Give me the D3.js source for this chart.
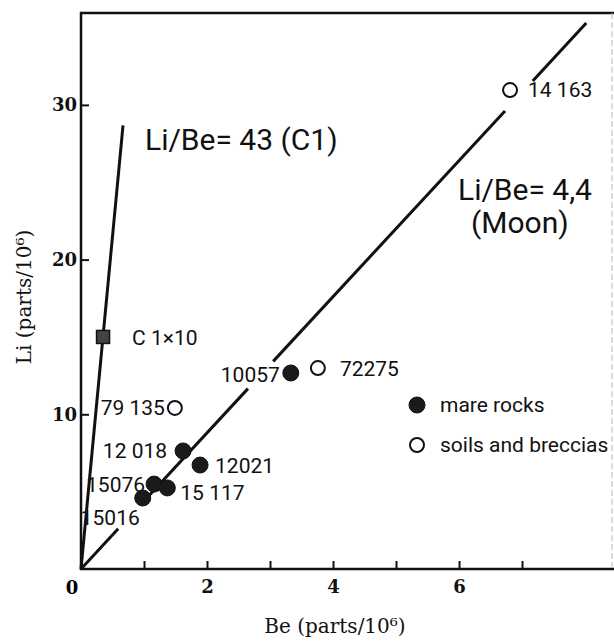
<!DOCTYPE html>
<html>
<head>
<meta charset="utf-8">
<script src="https://cdn.jsdelivr.net/npm/d3@7"></script>
<style>
  body { margin: 0; background: #fff; }
  svg { display: block; }
  .lbl { font-family: Roboto, sans-serif; font-size: 21px; fill: #111; }
  .big { font-family: Roboto, sans-serif; font-size: 30px; fill: #111; }
  .axis text { font-family: "DejaVu Serif", serif; font-size: 18px; font-weight: bold; fill: #111; }
  .axis line { stroke: #111; stroke-width: 2; }
  .ttl { font-family: "DejaVu Serif", serif; font-size: 20px; fill: #111; }
</style>
</head>
<body>
<div id="chart"></div>
<script>
// Lunar samples (Be, Li in parts/10^6)
var sampleLabels = ["14 163", "72275", "10057", "79 135", "12 018", "12021", "15076", "15 117", "15016"];
var beValues     = [6.81, 3.76, 3.33, 1.49, 1.62, 1.89, 1.16, 1.37, 0.98];
var liValues     = [30.96, 12.99, 12.67, 10.41, 7.63, 6.72, 5.49, 5.24, 4.59];
var sampleTypes  = ["soil", "soil", "mare", "soil", "mare", "mare", "mare", "mare", "mare"];

// carbonaceous chondrite point (x10)
var c1Label = "C 1×10";
var c1Be = 0.35, c1Li = 15.0;

// reference ratio lines
var ratioValues = [43, 4.4];
var c1LineSegments   = [[0, 0.667]];
var moonLineSegments = [[0, 0.59], [1.0, 2.65], [3.05, 6.73], [7.17, 8.02]];

var xTicks = [1, 2, 3, 4, 5, 6, 7];
var xTickLabels = {2: "2", 4: "4", 6: "6"};
var yTicks = [10, 20, 30];

var legendLabels = ["mare rocks", "soils and breccias"];

// label placement around each point: [dx, dy, anchor]
var labelOffsets = [
  [18, 7, "start"], [22, 8, "start"], [-11, 9, "end"], [-10, 7, "end"],
  [-16, 7, "end"], [15, 8, "start"], [-9, 8, "end"], [13, 12, "start"], [-3, 27, "end"]
];

drawChart();

function drawChart() {
  var W = 614, H = 641;
  var margin = {top: 13, left: 81, right: 0, bottom: 72};
  var width = W - margin.left - margin.right,
      height = H - margin.top - margin.bottom;

  var svg = d3.select("#chart").append("svg").attr("width", W).attr("height", H);
  var g = svg.append("g").attr("transform", "translate(" + margin.left + "," + margin.top + ")");

  var x = d3.scaleLinear().domain([0, 8.46]).range([0, width]);
  var y = d3.scaleLinear().domain([0, 35.94]).range([height, 0]);

  // axes with inward ticks
  g.append("g").attr("class", "axis")
    .attr("transform", "translate(0," + height + ")")
    .call(d3.axisBottom(x).tickValues(xTicks).tickSize(-8).tickPadding(11)
      .tickFormat(function(d) { return xTickLabels[d] || ""; }))
    .call(function(a) { a.select(".domain").remove(); });

  g.append("g").attr("class", "axis")
    .call(d3.axisLeft(y).tickValues(yTicks).tickSize(-8).tickPadding(4))
    .call(function(a) { a.select(".domain").remove(); });

  g.append("text")
    .attr("x", x(0) - 9).attr("y", height + 25)
    .attr("text-anchor", "middle")
    .style("font-family", "DejaVu Serif, serif").style("font-size", "18px").style("font-weight", "bold")
    .text("0");

  // frame
  g.append("path")
    .attr("d", "M" + width + ",0H0V" + height + "H" + width)
    .attr("fill", "none").attr("stroke", "#111").attr("stroke-width", 2.5);
  g.append("line")
    .attr("x1", width - 2).attr("x2", width - 2).attr("y1", 0).attr("y2", height)
    .attr("stroke", "#bbb").attr("stroke-width", 1).attr("stroke-dasharray", "6,3");

  // ratio lines
  function drawRatio(ratio, segs) {
    segs.forEach(function(s) {
      g.append("line")
        .attr("x1", x(s[0])).attr("y1", y(s[0] * ratio))
        .attr("x2", x(s[1])).attr("y2", y(s[1] * ratio))
        .attr("stroke", "#111").attr("stroke-width", 3);
    });
  }
  drawRatio(ratioValues[0], c1LineSegments);
  drawRatio(ratioValues[1], moonLineSegments);

  g.append("text").attr("class", "big").attr("x", 64).attr("y", 137).text("Li/Be= 43 (C1)");
  g.append("text").attr("class", "big").attr("x", 377).attr("y", 187).text("Li/Be= 4,4");
  g.append("text").attr("class", "big").attr("x", 390).attr("y", 220).text("(Moon)");

  // C1 square
  g.append("rect")
    .attr("x", x(c1Be) - 6.5).attr("y", y(c1Li) - 6.5)
    .attr("width", 13).attr("height", 13)
    .attr("fill", "#444").attr("stroke", "#111").attr("stroke-width", 1.5);
  g.append("text").attr("class", "lbl")
    .attr("x", x(c1Be) + 29).attr("y", y(c1Li) + 8).text(c1Label);

  // samples
  var data = sampleLabels.map(function(l, i) {
    return {label: l, be: beValues[i], li: liValues[i], type: sampleTypes[i], off: labelOffsets[i]};
  });

  g.selectAll(".pt").data(data).enter().append("circle")
    .attr("class", "pt")
    .attr("cx", function(d) { return x(d.be); })
    .attr("cy", function(d) { return y(d.li); })
    .attr("r", function(d) { return d.type == "mare" ? 8 : 7; })
    .attr("fill", function(d) { return d.type == "mare" ? "#1a1a1a" : "#fff"; })
    .attr("stroke", "#111")
    .attr("stroke-width", function(d) { return d.type == "mare" ? 1 : 2; });

  g.selectAll(".ptl").data(data).enter().append("text")
    .attr("class", "lbl ptl")
    .attr("x", function(d) { return x(d.be) + d.off[0]; })
    .attr("y", function(d) { return y(d.li) + d.off[1]; })
    .attr("text-anchor", function(d) { return d.off[2]; })
    .text(function(d) { return d.label; });

  // legend
  var legend = g.append("g").attr("transform", "translate(336,392)");
  legendLabels.forEach(function(l, i) {
    var row = legend.append("g").attr("transform", "translate(0," + (i * 40) + ")");
    row.append("circle").attr("r", i == 0 ? 8 : 7)
      .attr("fill", i == 0 ? "#1a1a1a" : "#fff")
      .attr("stroke", "#111").attr("stroke-width", i == 0 ? 1 : 2);
    row.append("text").attr("class", "lbl").attr("x", 23).attr("y", 7).text(l);
  });

  // axis titles
  svg.append("text").attr("class", "ttl")
    .attr("x", 335).attr("y", 633).attr("text-anchor", "middle")
    .text("Be (parts/10⁶)");
  svg.append("text").attr("class", "ttl")
    .attr("transform", "translate(31,297) rotate(-90)")
    .attr("text-anchor", "middle")
    .text("Li (parts/10⁶)");
}
</script>
</body>
</html>
